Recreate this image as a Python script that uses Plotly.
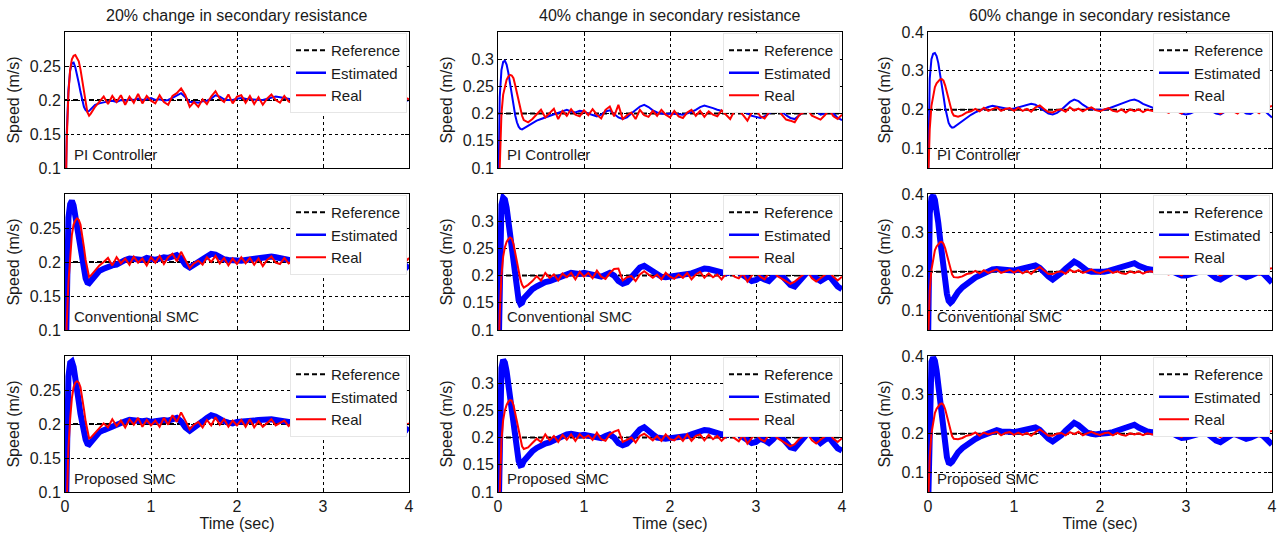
import plotly.graph_objects as go

# ---------------- data ----------------
time_s = [0, 0.02, 0.04, 0.06, 0.08, 0.10, 0.12, 0.14, 0.16, 0.18, 0.20, 0.22, 0.24, 0.26, 0.28, 0.30, 0.35,
          0.40, 0.45, 0.50, 0.55, 0.60, 0.65, 0.70, 0.75, 0.80, 0.85, 0.90, 0.95, 1.00,
          1.05, 1.10, 1.15, 1.20, 1.25, 1.30, 1.35, 1.40, 1.45, 1.50,
          1.55, 1.60, 1.65, 1.70, 1.75, 1.80, 1.85, 1.90, 1.95, 2.00,
          2.05, 2.10, 2.15, 2.20, 2.25, 2.30, 2.35, 2.40, 2.45, 2.50,
          2.55, 2.60, 2.65, 2.70, 2.75, 2.80, 2.85, 2.90, 2.95, 3.00,
          3.05, 3.10, 3.15, 3.20, 3.25, 3.30, 3.35, 3.40, 3.45, 3.50,
          3.55, 3.60, 3.65, 3.70, 3.75, 3.80, 3.85, 3.90, 3.95, 4.00]

reference_speed = 0.2
reference_time = [0, 4]

# PI controller
est_pi_20 = [0, 0.15, 0.215, 0.243, 0.254, 0.255, 0.248, 0.238, 0.225, 0.212, 0.2, 0.19, 0.185, 0.183, 0.184, 0.187, 0.193,
             0.195, 0.197, 0.198, 0.199, 0.197, 0.2, 0.199, 0.201, 0.2, 0.202, 0.2, 0.201, 0.203,
             0.2, 0.201, 0.199, 0.2, 0.203, 0.207, 0.21, 0.204, 0.197, 0.197,
             0.196, 0.198, 0.199, 0.202, 0.207, 0.205, 0.201, 0.2, 0.2, 0.202,
             0.203, 0.202, 0.201, 0.2, 0.2, 0.2, 0.202, 0.204, 0.205, 0.204,
             0.203, 0.202, 0.2, 0.2, 0.199, 0.198, 0.196, 0.197, 0.2, 0.2,
             0.2, 0.198, 0.197, 0.19, 0.196, 0.2, 0.2, 0.197, 0.19, 0.197,
             0.2, 0.201, 0.199, 0.19, 0.197, 0.2, 0.201, 0.2, 0.198, 0.2]
real_pi_20 = [0, 0.14, 0.21, 0.245, 0.26, 0.265, 0.266, 0.262, 0.257, 0.245, 0.228, 0.21, 0.193, 0.182, 0.177, 0.18, 0.19,
              0.198, 0.205, 0.194, 0.206, 0.197, 0.207, 0.193, 0.205, 0.196, 0.209, 0.195, 0.206, 0.199,
              0.195, 0.207, 0.197, 0.193, 0.206, 0.21, 0.217, 0.207, 0.19, 0.197,
              0.19, 0.201, 0.194, 0.205, 0.213, 0.202, 0.197, 0.208, 0.195, 0.205,
              0.207, 0.196, 0.206, 0.194, 0.204, 0.193, 0.202, 0.208, 0.2, 0.196,
              0.206, 0.198, 0.195, 0.205, 0.197, 0.202, 0.186, 0.2, 0.206, 0.196,
              0.205, 0.196, 0.202, 0.187, 0.198, 0.204, 0.197, 0.2, 0.186, 0.204,
              0.197, 0.206, 0.196, 0.187, 0.204, 0.198, 0.206, 0.196, 0.204, 0.201]
est_pi_40 = [0, 0.23, 0.28, 0.295, 0.297, 0.29, 0.275, 0.255, 0.235, 0.215, 0.197, 0.184, 0.176, 0.172, 0.171, 0.173, 0.178,
             0.183, 0.187, 0.19, 0.193, 0.196, 0.198, 0.201, 0.205, 0.207, 0.204, 0.202, 0.205, 0.204,
             0.2, 0.197, 0.195, 0.198, 0.204, 0.206, 0.2, 0.193, 0.19, 0.193,
             0.2, 0.207, 0.213, 0.216, 0.212, 0.206, 0.202, 0.2, 0.199, 0.2,
             0.2, 0.199, 0.198, 0.2, 0.203, 0.207, 0.212, 0.215, 0.213, 0.21,
             0.207, 0.205, 0.203, 0.205, 0.208, 0.21, 0.205, 0.2, 0.196, 0.194,
             0.192, 0.195, 0.2, 0.205, 0.207, 0.203, 0.197, 0.192, 0.19, 0.197,
             0.203, 0.208, 0.21, 0.205, 0.198, 0.2, 0.207, 0.2, 0.192, 0.188]
real_pi_40 = [0, 0.12, 0.2, 0.235, 0.252, 0.262, 0.268, 0.271, 0.27, 0.265, 0.252, 0.238, 0.223, 0.208, 0.196, 0.188, 0.184,
              0.19, 0.198, 0.207, 0.193, 0.202, 0.209, 0.19, 0.205, 0.196, 0.208, 0.198, 0.195, 0.206,
              0.197, 0.208, 0.198, 0.191, 0.207, 0.213, 0.195, 0.216, 0.19, 0.197,
              0.202, 0.19, 0.207, 0.197, 0.194, 0.205, 0.196, 0.207, 0.198, 0.193,
              0.205, 0.195, 0.192, 0.202, 0.207, 0.196, 0.205, 0.194, 0.204, 0.198,
              0.195, 0.206, 0.198, 0.19, 0.205, 0.207, 0.197, 0.187, 0.202, 0.207,
              0.195, 0.191, 0.202, 0.207, 0.211, 0.198, 0.189, 0.187, 0.184, 0.197,
              0.202, 0.207, 0.196, 0.192, 0.189, 0.197, 0.207, 0.195, 0.19, 0.198]
est_pi_60 = [0, 0.28, 0.33, 0.344, 0.346, 0.338, 0.32, 0.295, 0.265, 0.235, 0.205, 0.182, 0.166, 0.158, 0.154, 0.155, 0.163,
             0.172, 0.18, 0.187, 0.193, 0.198, 0.203, 0.207, 0.21, 0.208, 0.205, 0.203, 0.201, 0.203,
             0.206, 0.208, 0.212, 0.215, 0.213, 0.205, 0.196, 0.19, 0.188, 0.192,
             0.2, 0.21, 0.22, 0.226, 0.222, 0.213, 0.206, 0.202, 0.2, 0.2,
             0.2, 0.203, 0.207, 0.212, 0.216, 0.22, 0.224, 0.226, 0.222, 0.215,
             0.21, 0.205, 0.202, 0.203, 0.206, 0.208, 0.205, 0.198, 0.19, 0.188,
             0.19, 0.195, 0.2, 0.205, 0.203, 0.196, 0.19, 0.188, 0.195, 0.202,
             0.207, 0.205, 0.198, 0.19, 0.189, 0.196, 0.203, 0.2, 0.19, 0.18]
real_pi_60 = [0, 0.15, 0.21, 0.24, 0.258, 0.268, 0.274, 0.278, 0.279, 0.275, 0.262, 0.245, 0.225, 0.207, 0.193, 0.185, 0.182,
              0.186, 0.193, 0.196, 0.202, 0.196, 0.205, 0.197, 0.202, 0.206, 0.197, 0.202, 0.204, 0.197,
              0.205, 0.197, 0.202, 0.195, 0.206, 0.211, 0.202, 0.194, 0.193, 0.199,
              0.201, 0.195, 0.206, 0.198, 0.203, 0.196, 0.202, 0.206, 0.199, 0.196,
              0.201, 0.204, 0.197, 0.195, 0.201, 0.193, 0.201, 0.196, 0.201, 0.194,
              0.2, 0.198, 0.195, 0.201, 0.197, 0.192, 0.201, 0.196, 0.19, 0.201,
              0.196, 0.201, 0.204, 0.195, 0.201, 0.206, 0.199, 0.19, 0.196, 0.201,
              0.196, 0.19, 0.201, 0.197, 0.201, 0.198, 0.191, 0.201, 0.206, 0.21]

# Conventional SMC
est_csmc_20 = [0, 0.2, 0.265, 0.285, 0.29, 0.283, 0.268, 0.25, 0.232, 0.214, 0.198, 0.186, 0.176, 0.17, 0.169, 0.172, 0.181,
               0.187, 0.19, 0.193, 0.195, 0.196, 0.2, 0.203, 0.205, 0.204, 0.202, 0.203, 0.206, 0.204,
               0.203, 0.205, 0.207, 0.206, 0.208, 0.21, 0.205, 0.196, 0.192, 0.195,
               0.2, 0.204, 0.208, 0.212, 0.211, 0.207, 0.204, 0.203, 0.202, 0.203,
               0.202, 0.203, 0.204, 0.205, 0.205, 0.206, 0.207, 0.208, 0.207, 0.206,
               0.205, 0.204, 0.203, 0.202, 0.2, 0.198, 0.194, 0.197, 0.2, 0.199,
               0.197, 0.196, 0.199, 0.195, 0.198, 0.2, 0.196, 0.193, 0.19, 0.196,
               0.198, 0.2, 0.197, 0.193, 0.198, 0.2, 0.201, 0.199, 0.196, 0.19]
real_csmc_20 = [0, 0.11, 0.17, 0.21, 0.24, 0.255, 0.261, 0.264, 0.262, 0.255, 0.24, 0.222, 0.203, 0.187, 0.178, 0.18, 0.188,
                0.195, 0.2, 0.206, 0.195, 0.207, 0.198, 0.205, 0.196, 0.208, 0.199, 0.205, 0.195, 0.207,
                0.199, 0.209, 0.197, 0.207, 0.212, 0.201, 0.215, 0.204, 0.191, 0.198,
                0.202, 0.196, 0.207, 0.2, 0.209, 0.198, 0.206, 0.195, 0.205, 0.197,
                0.207, 0.198, 0.206, 0.196, 0.205, 0.194, 0.203, 0.208, 0.199, 0.197,
                0.206, 0.198, 0.202, 0.205, 0.197, 0.202, 0.187, 0.203, 0.198, 0.205,
                0.201, 0.196, 0.205, 0.188, 0.202, 0.205, 0.197, 0.2, 0.187, 0.202,
                0.205, 0.198, 0.202, 0.188, 0.205, 0.199, 0.197, 0.205, 0.199, 0.206]
est_csmc_40 = [0, 0.27, 0.33, 0.343, 0.34, 0.325, 0.3, 0.272, 0.243, 0.215, 0.19, 0.17, 0.155, 0.148, 0.15, 0.158, 0.168,
               0.175, 0.18, 0.185, 0.188, 0.19, 0.193, 0.196, 0.2, 0.203, 0.205, 0.204, 0.203, 0.205,
               0.204, 0.203, 0.2, 0.198, 0.203, 0.205, 0.2, 0.19, 0.185, 0.188,
               0.197, 0.207, 0.215, 0.218, 0.213, 0.206, 0.2, 0.198, 0.197, 0.198,
               0.2, 0.199, 0.2, 0.202, 0.204, 0.207, 0.21, 0.213, 0.212, 0.21,
               0.207, 0.205, 0.204, 0.206, 0.208, 0.206, 0.2, 0.195, 0.19, 0.192,
               0.197, 0.193, 0.19, 0.198, 0.206, 0.2, 0.19, 0.183, 0.18, 0.19,
               0.2, 0.207, 0.205, 0.195, 0.19, 0.195, 0.2, 0.19, 0.18, 0.175]
real_csmc_40 = [0, 0.13, 0.2, 0.235, 0.252, 0.262, 0.267, 0.27, 0.268, 0.258, 0.242, 0.225, 0.208, 0.193, 0.183, 0.178, 0.183,
                0.19, 0.199, 0.191, 0.205, 0.196, 0.202, 0.191, 0.204, 0.197, 0.205, 0.193, 0.207, 0.198,
                0.205, 0.195, 0.209, 0.198, 0.194, 0.205, 0.212, 0.213, 0.191, 0.197,
                0.199, 0.19, 0.202, 0.208, 0.202, 0.196, 0.202, 0.193, 0.205, 0.198,
                0.194, 0.202, 0.196, 0.205, 0.193, 0.202, 0.207, 0.196, 0.204, 0.197,
                0.202, 0.193, 0.203, 0.207, 0.198, 0.195, 0.204, 0.189, 0.2, 0.207,
                0.198, 0.193, 0.205, 0.208, 0.199, 0.194, 0.189, 0.185, 0.189, 0.196,
                0.202, 0.207, 0.195, 0.189, 0.195, 0.202, 0.207, 0.198, 0.191, 0.198]
est_csmc_60 = [0, 0.35, 0.39, 0.396, 0.385, 0.36, 0.325, 0.285, 0.245, 0.205, 0.17, 0.143, 0.125, 0.12, 0.124, 0.133, 0.148,
               0.16, 0.17, 0.178, 0.185, 0.19, 0.196, 0.2, 0.206, 0.207, 0.205, 0.203, 0.204, 0.203,
               0.205, 0.207, 0.21, 0.213, 0.216, 0.21, 0.198, 0.188, 0.18, 0.187,
               0.197, 0.208, 0.218, 0.226, 0.22, 0.21, 0.203, 0.2, 0.199, 0.2,
               0.2, 0.202, 0.205, 0.209, 0.213, 0.217, 0.221, 0.222, 0.215, 0.21,
               0.207, 0.205, 0.204, 0.206, 0.207, 0.205, 0.2, 0.195, 0.19, 0.19,
               0.193, 0.197, 0.2, 0.203, 0.2, 0.19, 0.183, 0.18, 0.187, 0.195,
               0.2, 0.197, 0.19, 0.186, 0.19, 0.196, 0.2, 0.195, 0.182, 0.172]
real_csmc_60 = [0, 0.15, 0.205, 0.235, 0.255, 0.265, 0.272, 0.276, 0.277, 0.272, 0.26, 0.242, 0.223, 0.206, 0.193, 0.186, 0.185,
                0.188, 0.194, 0.196, 0.202, 0.196, 0.204, 0.197, 0.202, 0.206, 0.197, 0.202, 0.205, 0.198,
                0.204, 0.196, 0.202, 0.194, 0.205, 0.212, 0.204, 0.194, 0.194, 0.199,
                0.201, 0.195, 0.205, 0.199, 0.204, 0.197, 0.201, 0.206, 0.199, 0.196,
                0.201, 0.204, 0.197, 0.201, 0.196, 0.194, 0.201, 0.197, 0.201, 0.195,
                0.2, 0.201, 0.195, 0.201, 0.196, 0.193, 0.201, 0.196, 0.191, 0.201,
                0.197, 0.201, 0.204, 0.195, 0.201, 0.204, 0.197, 0.19, 0.196, 0.201,
                0.197, 0.192, 0.201, 0.197, 0.201, 0.198, 0.192, 0.201, 0.207, 0.209]

# Proposed SMC
est_psmc_20 = [0, 0.21, 0.27, 0.29, 0.292, 0.284, 0.27, 0.252, 0.233, 0.215, 0.2, 0.187, 0.177, 0.171, 0.17, 0.173, 0.182,
               0.188, 0.191, 0.194, 0.196, 0.198, 0.201, 0.204, 0.206, 0.205, 0.203, 0.204, 0.205, 0.203,
               0.204, 0.206, 0.206, 0.205, 0.207, 0.209, 0.204, 0.195, 0.19, 0.194,
               0.199, 0.204, 0.209, 0.213, 0.211, 0.207, 0.204, 0.202, 0.201, 0.203,
               0.203, 0.204, 0.205, 0.205, 0.206, 0.207, 0.208, 0.207, 0.206, 0.205,
               0.204, 0.203, 0.203, 0.201, 0.2, 0.197, 0.193, 0.196, 0.199, 0.2,
               0.198, 0.197, 0.198, 0.196, 0.199, 0.2, 0.195, 0.192, 0.19, 0.195,
               0.198, 0.199, 0.197, 0.194, 0.197, 0.199, 0.2, 0.198, 0.195, 0.19]
real_psmc_20 = [0, 0.1, 0.165, 0.208, 0.238, 0.254, 0.261, 0.263, 0.261, 0.254, 0.24, 0.222, 0.204, 0.188, 0.179, 0.18, 0.187,
                0.194, 0.201, 0.195, 0.207, 0.197, 0.205, 0.195, 0.207, 0.199, 0.209, 0.196, 0.206, 0.198,
                0.205, 0.196, 0.209, 0.199, 0.213, 0.203, 0.217, 0.205, 0.192, 0.199,
                0.203, 0.195, 0.206, 0.198, 0.21, 0.199, 0.207, 0.196, 0.205, 0.198,
                0.206, 0.196, 0.207, 0.195, 0.204, 0.196, 0.202, 0.207, 0.198, 0.202,
                0.205, 0.197, 0.203, 0.206, 0.196, 0.202, 0.187, 0.202, 0.197, 0.206,
                0.198, 0.195, 0.204, 0.188, 0.202, 0.206, 0.196, 0.202, 0.187, 0.202,
                0.204, 0.197, 0.202, 0.188, 0.204, 0.199, 0.196, 0.204, 0.198, 0.201]
est_psmc_40 = [0, 0.265, 0.328, 0.343, 0.338, 0.322, 0.298, 0.27, 0.242, 0.214, 0.19, 0.171, 0.157, 0.149, 0.15, 0.157, 0.167,
               0.175, 0.181, 0.186, 0.189, 0.191, 0.195, 0.198, 0.202, 0.206, 0.207, 0.205, 0.204, 0.205,
               0.204, 0.202, 0.2, 0.199, 0.203, 0.206, 0.2, 0.19, 0.186, 0.189,
               0.197, 0.207, 0.215, 0.219, 0.214, 0.206, 0.2, 0.198, 0.198, 0.199,
               0.2, 0.2, 0.201, 0.203, 0.206, 0.209, 0.212, 0.214, 0.213, 0.21,
               0.208, 0.206, 0.205, 0.207, 0.209, 0.206, 0.2, 0.194, 0.19, 0.192,
               0.198, 0.195, 0.19, 0.197, 0.207, 0.2, 0.19, 0.182, 0.18, 0.19,
               0.2, 0.208, 0.206, 0.196, 0.19, 0.196, 0.2, 0.19, 0.18, 0.176]
real_psmc_40 = [0, 0.12, 0.195, 0.232, 0.25, 0.26, 0.266, 0.269, 0.268, 0.26, 0.245, 0.228, 0.21, 0.195, 0.184, 0.179, 0.182,
                0.19, 0.198, 0.192, 0.206, 0.195, 0.203, 0.192, 0.205, 0.196, 0.206, 0.194, 0.206, 0.199,
                0.204, 0.196, 0.209, 0.197, 0.194, 0.206, 0.211, 0.214, 0.192, 0.196,
                0.2, 0.191, 0.203, 0.207, 0.201, 0.195, 0.203, 0.194, 0.206, 0.197,
                0.195, 0.203, 0.194, 0.206, 0.194, 0.203, 0.206, 0.195, 0.205, 0.197,
                0.203, 0.194, 0.202, 0.207, 0.199, 0.193, 0.205, 0.189, 0.199, 0.207,
                0.197, 0.193, 0.206, 0.207, 0.199, 0.194, 0.189, 0.184, 0.188, 0.197,
                0.203, 0.207, 0.195, 0.189, 0.196, 0.202, 0.208, 0.198, 0.192, 0.199]
est_psmc_60 = [0, 0.34, 0.385, 0.396, 0.388, 0.362, 0.325, 0.283, 0.24, 0.2, 0.165, 0.14, 0.126, 0.124, 0.128, 0.137, 0.152,
               0.163, 0.172, 0.18, 0.186, 0.192, 0.197, 0.202, 0.208, 0.209, 0.206, 0.204, 0.205, 0.204,
               0.206, 0.208, 0.211, 0.214, 0.216, 0.21, 0.197, 0.187, 0.18, 0.186,
               0.196, 0.208, 0.219, 0.228, 0.222, 0.211, 0.203, 0.2, 0.198, 0.2,
               0.2, 0.202, 0.204, 0.208, 0.212, 0.216, 0.22, 0.223, 0.216, 0.21,
               0.206, 0.204, 0.203, 0.205, 0.207, 0.205, 0.2, 0.194, 0.189, 0.19,
               0.194, 0.198, 0.2, 0.203, 0.2, 0.19, 0.182, 0.178, 0.186, 0.195,
               0.2, 0.196, 0.19, 0.187, 0.19, 0.197, 0.2, 0.194, 0.18, 0.172]
real_psmc_60 = [0, 0.14, 0.2, 0.232, 0.253, 0.264, 0.271, 0.276, 0.278, 0.274, 0.263, 0.245, 0.226, 0.208, 0.194, 0.187, 0.186,
                0.189, 0.195, 0.197, 0.203, 0.195, 0.203, 0.198, 0.202, 0.205, 0.196, 0.202, 0.204, 0.197,
                0.203, 0.197, 0.202, 0.195, 0.204, 0.211, 0.203, 0.195, 0.195, 0.2,
                0.202, 0.196, 0.204, 0.199, 0.205, 0.196, 0.201, 0.205, 0.2, 0.197,
                0.201, 0.203, 0.196, 0.202, 0.197, 0.195, 0.201, 0.198, 0.201, 0.196,
                0.201, 0.198, 0.196, 0.201, 0.195, 0.194, 0.201, 0.195, 0.192, 0.201,
                0.196, 0.201, 0.203, 0.195, 0.201, 0.203, 0.196, 0.191, 0.197, 0.201,
                0.196, 0.193, 0.201, 0.196, 0.201, 0.197, 0.193, 0.201, 0.205, 0.207]

column_titles = ["20% change in secondary resistance",
                 "40% change in secondary resistance",
                 "60% change in secondary resistance"]
controller_names = ["PI Controller", "Conventional SMC", "Proposed SMC"]
series_names = ["Reference", "Estimated", "Real"]

x_tickvals = [0, 1, 2, 3, 4]
x_ticktext = ["0", "1", "2", "3", "4"]
y_tickvals = [[0.1, 0.15, 0.2, 0.25], [0.1, 0.15, 0.2, 0.25, 0.3], [0.1, 0.2, 0.3, 0.4]]
y_ticktext = [["0.1", "0.15", "0.2", "0.25"], ["0.1", "0.15", "0.2", "0.25", "0.3"], ["0.1", "0.2", "0.3", "0.4"]]
y_ranges = [[0.1, 0.3], [0.1, 0.35], [0.05, 0.4]]
x_range = [0, 4]

estimated = [[est_pi_20, est_pi_40, est_pi_60],
             [est_csmc_20, est_csmc_40, est_csmc_60],
             [est_psmc_20, est_psmc_40, est_psmc_60]]
real = [[real_pi_20, real_pi_40, real_pi_60],
        [real_csmc_20, real_csmc_40, real_csmc_60],
        [real_psmc_20, real_psmc_40, real_psmc_60]]

for grp in (estimated, real):
    for row in grp:
        for s in row:
            assert len(s) == len(time_s), len(s)

# ---------------- layout ----------------
W, H = 1285, 538
col_px = [(65, 409), (498, 842), (928, 1272)]
row_px = [(32, 168), (194, 330), (356, 492)]
FONT = "Liberation Sans, Arial, sans-serif"
TXT = "#1a1a1a"
BLUE = "#0000ff"
RED = "#ff0000"

fig = go.Figure()
layout = dict(
    width=W, height=H, margin=dict(l=0, r=0, t=0, b=0, autoexpand=False),
    paper_bgcolor="white", plot_bgcolor="white",
    font=dict(family=FONT, size=16, color=TXT),
    annotations=[],
)

for r in range(3):
    for c in range(3):
        k = r * 3 + c + 1
        xa = "x" if k == 1 else f"x{k}"
        ya = "y" if k == 1 else f"y{k}"
        lg = "legend" if k == 1 else f"legend{k}"
        blue_w = 2 if r == 0 else 6

        fig.add_trace(go.Scatter(x=reference_time, y=[reference_speed, reference_speed],
                                 mode="lines", name=series_names[0],
                                 line=dict(color="black", width=2, dash="5px,3px"),
                                 xaxis=xa, yaxis=ya, legend=lg))
        # data trace for estimated speed (legend entry drawn by a thin sample trace)
        fig.add_trace(go.Scatter(x=time_s, y=estimated[r][c], mode="lines", name=series_names[1],
                                 line=dict(color=BLUE, width=blue_w), showlegend=False,
                                 xaxis=xa, yaxis=ya))
        fig.add_trace(go.Scatter(x=[None], y=[None], mode="lines", name=series_names[1],
                                 line=dict(color=BLUE, width=2.5),
                                 xaxis=xa, yaxis=ya, legend=lg))
        fig.add_trace(go.Scatter(x=time_s, y=real[r][c], mode="lines", name=series_names[2],
                                 line=dict(color=RED, width=2),
                                 xaxis=xa, yaxis=ya, legend=lg))

        x0, x1 = col_px[c]
        y0, y1 = row_px[r]
        xdom = [x0 / W, x1 / W]
        ydom = [1 - y1 / H, 1 - y0 / H]
        common = dict(showline=True, linecolor="black", linewidth=1, mirror="ticks",
                      ticks="inside", ticklen=4, tickcolor="black", automargin=False,
                      showgrid=True, gridcolor="black", gridwidth=1, griddash="3px,3px",
                      zeroline=False, tickfont=dict(family=FONT, size=16, color=TXT))
        xkey = "xaxis" if k == 1 else f"xaxis{k}"
        ykey = "yaxis" if k == 1 else f"yaxis{k}"
        layout[xkey] = dict(common, domain=xdom, anchor=ya, range=x_range,
                            tickvals=x_tickvals, ticktext=x_ticktext,
                            showticklabels=(r == 2),
                            title=dict(text="Time (sec)" if r == 2 else "", standoff=2,
                                       font=dict(family=FONT, size=16, color=TXT)))
        layout[ykey] = dict(common, domain=ydom, anchor=xa, range=y_ranges[c],
                            tickvals=y_tickvals[c], ticktext=y_ticktext[c],
                            title=dict(text="Speed (m/s)", standoff=6,
                                       font=dict(family=FONT, size=16, color=TXT)))
        layout[lg] = dict(x=(x1 - 2) / W, xanchor="right", y=1 - (y0 + 1) / H, yanchor="top",
                          bgcolor="white", bordercolor="#e6e6e6", borderwidth=1,
                          font=dict(family=FONT, size=15, color=TXT),
                          tracegroupgap=0, itemwidth=30)
        layout["annotations"].append(dict(
            text=controller_names[r], xref=f"{xa} domain", yref=f"{ya} domain",
            x=0.02, y=0.1, xanchor="left", yanchor="middle", showarrow=False,
            font=dict(family=FONT, size=15, color=TXT)))

for c in range(3):
    x0, x1 = col_px[c]
    layout["annotations"].append(dict(
        text=column_titles[c], xref="paper", yref="paper",
        x=(x0 + x1) / 2 / W, y=1 - 16 / H, xanchor="center", yanchor="middle",
        showarrow=False, font=dict(family=FONT, size=16, color=TXT)))

fig.update_layout(**layout)
fig.write_html("out.html", config={"displayModeBar": False},
               post_script="document.body.style.margin='0px';document.body.style.overflow='hidden';")
